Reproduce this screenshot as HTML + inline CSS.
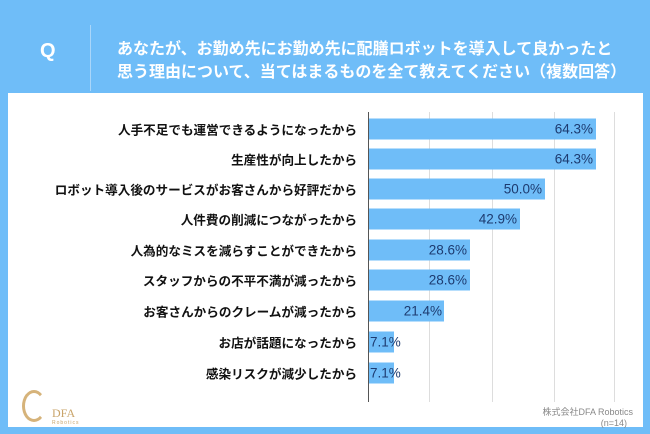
<!DOCTYPE html>
<html><head><meta charset="utf-8"><style>
body{margin:0;width:650px;height:434px;background:#6fbdf8;position:relative;overflow:hidden;font-family:"Liberation Sans","Noto Sans CJK JP",sans-serif}
.panel{position:absolute;left:8px;top:93px;width:635px;height:334px;background:#fff}
.t{position:absolute;left:117px;color:#fff;font-weight:bold;font-size:16px;white-space:nowrap}
.lab{position:absolute;right:293px;font-size:12.6px;font-weight:bold;color:#111;white-space:nowrap;transform:translateY(-50%)}
.bar{position:absolute;left:369px;height:21px;background:#6fbdf8;transform:translateY(-50%)}
.val{position:absolute;font-size:13.5px;color:#1d3b70;transform:translateY(-50%);white-space:nowrap}
.g{position:absolute;top:112px;height:290px;width:1px;background:#ddd}
</style></head><body>
<div style="position:absolute;left:40px;top:40px;color:#fff;font-weight:bold;font-size:20px">Q</div>
<div style="position:absolute;left:90px;top:25px;width:1px;height:66px;background:#a9d6fa"></div>
<div class="t" style="top:35px">あなたが、お勤め先にお勤め先に配膳ロボットを導入して良かったと</div>
<div class="t" style="top:58px">思う理由について、当てはまるものを全て教えてください（複数回答）</div>
<div class="panel"></div>
<div class="g" style="left:429px"></div><div class="g" style="left:492px"></div><div class="g" style="left:554px"></div><div class="g" style="left:614px"></div>
<div style="position:absolute;left:368px;top:112px;width:1px;height:290px;background:#555"></div>
<div class="lab" style="top:129px">人手不足でも運営できるようになったから</div><div class="bar" style="top:129px;width:227px"></div><div class="val" style="top:129px;right:57px">64.3%</div>
<div class="lab" style="top:159px">生産性が向上したから</div><div class="bar" style="top:159px;width:227px"></div><div class="val" style="top:159px;right:57px">64.3%</div>
<div class="lab" style="top:189px">ロボット導入後のサービスがお客さんから好評だから</div><div class="bar" style="top:189px;width:176px"></div><div class="val" style="top:189px;right:108px">50.0%</div>
<div class="lab" style="top:219px">人件費の削減につながったから</div><div class="bar" style="top:219px;width:151px"></div><div class="val" style="top:219px;right:133px">42.9%</div>
<div class="lab" style="top:250px">人為的なミスを減らすことができたから</div><div class="bar" style="top:250px;width:101px"></div><div class="val" style="top:250px;right:183px">28.6%</div>
<div class="lab" style="top:280px">スタッフからの不平不満が減ったから</div><div class="bar" style="top:280px;width:101px"></div><div class="val" style="top:280px;right:183px">28.6%</div>
<div class="lab" style="top:311px">お客さんからのクレームが減ったから</div><div class="bar" style="top:311px;width:75px"></div><div class="val" style="top:311px;right:208px">21.4%</div>
<div class="lab" style="top:342px">お店が話題になったから</div><div class="bar" style="top:342px;width:25px"></div><div class="val" style="top:342px;left:370px">7.1%</div>
<div class="lab" style="top:373px">感染リスクが減少したから</div><div class="bar" style="top:373px;width:25px"></div><div class="val" style="top:373px;left:370px">7.1%</div>
<div style="position:absolute;left:22px;top:390px;width:18px;height:26px;border:3px solid #d6b37a;border-radius:50%;border-right-color:transparent"></div>
<div style="position:absolute;left:52px;top:406px;color:#c9a46a;font-family:'Liberation Serif',serif;font-size:12px">DFA</div>
<div style="position:absolute;left:52px;top:420px;color:#c9a46a;font-size:5px;letter-spacing:1px">Robotics</div>
<div style="position:absolute;right:17px;top:405px;color:#888;font-size:9px">株式会社DFA Robotics</div>
<div style="position:absolute;right:23px;top:418px;color:#888;font-size:9px">(n=14)</div>
</body></html>
